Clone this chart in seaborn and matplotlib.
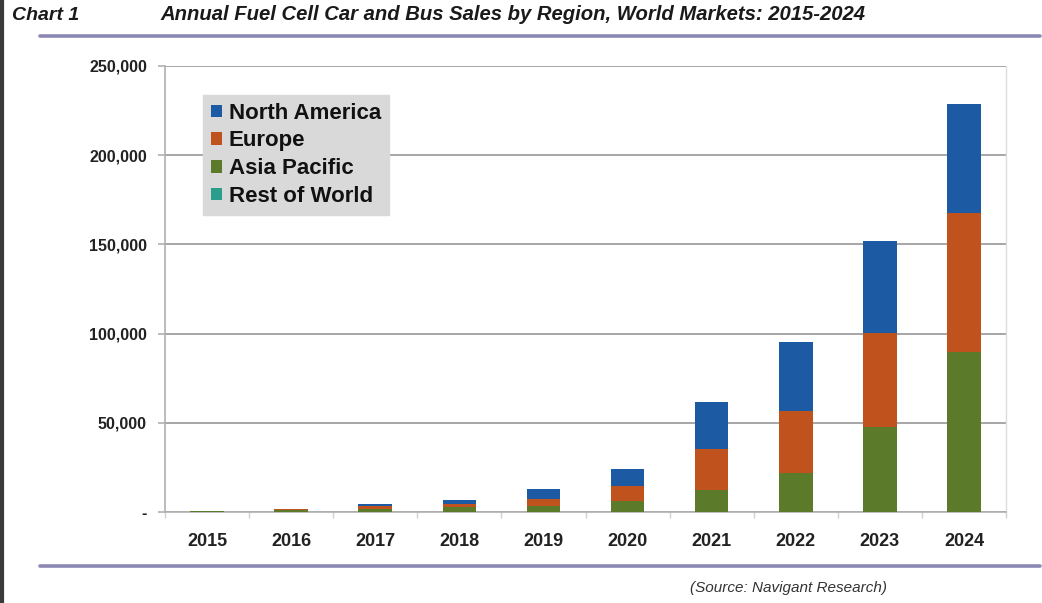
import matplotlib
matplotlib.use("Agg")
import matplotlib.pyplot as plt
from matplotlib.lines import Line2D
from matplotlib.patches import Patch
from matplotlib.ticker import FuncFormatter, FixedLocator
import numpy as np
import pandas as pd
import seaborn as sns

# Annual unit sales by region
years = ["2015", "2016", "2017", "2018", "2019", "2020", "2021", "2022", "2023", "2024"]
north_america = [150, 400, 900, 2000, 5400, 9500, 26400, 38700, 51600, 61100]
europe = [200, 500, 1500, 2100, 3800, 8400, 23000, 34700, 52700, 77900]
asia_pacific = [350, 950, 1850, 2550, 3450, 6150, 12250, 21850, 47550, 89650]
rest_of_world = [20, 50, 50, 50, 50, 50, 50, 50, 50, 50]

regions = ["North America", "Europe", "Asia Pacific", "Rest of World"]
colors = {
    "North America": "#1c5aa3",
    "Europe": "#c0521d",
    "Asia Pacific": "#5b7a2a",
    "Rest of World": "#2a9d8c",
}

df = pd.DataFrame({
    "year": years,
    "North America": north_america,
    "Europe": europe,
    "Asia Pacific": asia_pacific,
    "Rest of World": rest_of_world,
})

sns.set_theme(style="white")
plt.rcParams["font.family"] = ["Liberation Sans", "DejaVu Sans"]

fig = plt.figure(figsize=(10.42, 6.03), dpi=100)
fig.patch.set_facecolor("white")
ax = fig.add_axes([165 / 1042, 1 - 512 / 603, (1006 - 165) / 1042, (512 - 66) / 603])

# Stacked bars: draw the cumulative totals from the top segment down
stack_cols = regions  # top to bottom
for i, reg in enumerate(stack_cols):
    cum = df[stack_cols[i:]].sum(axis=1)
    sns.barplot(x=df["year"], y=cum, color=colors[reg], width=0.40,
                saturation=1, ax=ax, zorder=3, order=years,
                linewidth=0, edgecolor="none")

ax.set_ylim(0, 250000)
ax.set_xlim(-0.5, len(years) - 0.5)
ax.set_xlabel("")
ax.set_ylabel("")

ax.yaxis.set_major_locator(FixedLocator(np.arange(0, 250001, 50000)))
ax.yaxis.set_major_formatter(FuncFormatter(lambda v, p: "-" if v == 0 else f"{int(v):,}"))
ax.grid(axis="y", color="#a6a6a6", linewidth=1.4, zorder=0)
ax.grid(axis="x", visible=False)
ax.set_axisbelow(True)

ax.spines["top"].set_visible(False)
ax.spines["left"].set_color("#b0b0b0")
ax.spines["left"].set_linewidth(1.2)
ax.spines["bottom"].set_color("#b0b0b0")
ax.spines["bottom"].set_linewidth(1.2)
ax.spines["right"].set_color("#dcdcdc")
ax.spines["right"].set_linewidth(1.0)

ax.tick_params(axis="y", which="major", left=True, length=5, width=1.2, color="#b0b0b0",
               pad=8, labelsize=11.5, labelcolor="#222222")
ax.tick_params(axis="x", which="major", bottom=False, pad=9, labelsize=13, labelcolor="#222222")
ax.set_xticks(np.arange(-0.5, len(years), 1.0), minor=True)
ax.tick_params(axis="x", which="minor", bottom=True, length=4, width=1.0, color="#d0d0d0")
for lab in ax.get_yticklabels() + ax.get_xticklabels():
    lab.set_fontweight("bold")

# Legend
handles = [Patch(facecolor=colors[r], edgecolor="none") for r in regions]
leg = ax.legend(handles, regions, loc="upper left", bbox_to_anchor=(0.032, 0.96),
                frameon=True, fancybox=False, handlelength=0.5, handleheight=0.5,
                handletextpad=0.3, labelspacing=0.3, borderpad=0.35,
                prop={"weight": "bold", "size": 16})
leg.get_frame().set_facecolor("#d9d9d9")
leg.get_frame().set_edgecolor("#d9d9d9")
leg.get_frame().set_alpha(1)
for t in leg.get_texts():
    t.set_color("#111111")

# Header, rules and source
fig.text(12 / 1042, 1 - 15 / 603, "Chart 1", fontsize=14, fontweight="bold",
         fontstyle="italic", color="#1a1a1a", va="center", ha="left")
fig.text(160 / 1042, 1 - 15 / 603,
         "Annual Fuel Cell Car and Bus Sales by Region, World Markets: 2015-2024",
         fontsize=14.6, fontweight="bold", fontstyle="italic", color="#1a1a1a",
         va="center", ha="left")
for yy in (36, 566):
    fig.add_artist(Line2D([40 / 1042, 1040 / 1042], [1 - yy / 603, 1 - yy / 603],
                          color="#8c88b4", linewidth=2.6, transform=fig.transFigure))
fig.add_artist(Line2D([1.5 / 1042, 1.5 / 1042], [0, 1], color="#3a3a3a",
                      linewidth=3, transform=fig.transFigure))
fig.text(690 / 1042, 1 - 588 / 603, "(Source: Navigant Research)", fontsize=11,
         fontstyle="italic", color="#333333", va="center", ha="left")

fig.savefig("out.png", dpi=100, facecolor="white")
